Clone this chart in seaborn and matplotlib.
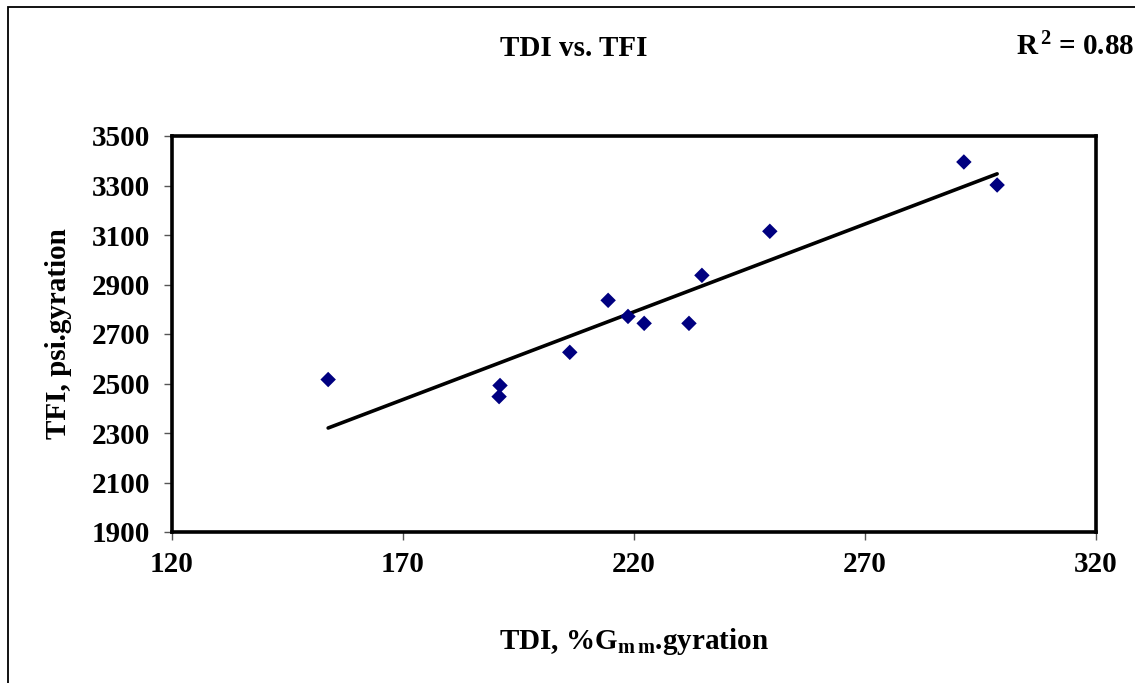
import matplotlib
matplotlib.use("Agg")
import matplotlib.pyplot as plt
import matplotlib.patches as mpatches
import seaborn as sns
import pandas as pd

# TDI and TFI measurements
tdi = [153.8, 191.0, 190.8, 206.1, 214.4, 218.7, 222.2, 231.9, 234.7, 249.4, 291.4, 298.6]
tfi = [2516, 2492, 2447, 2626, 2836, 2771, 2743, 2743, 2937, 3115, 3395, 3302]
x_ticks = [120, 170, 220, 270, 320]
y_ticks = [1900, 2100, 2300, 2500, 2700, 2900, 3100, 3300, 3500]
r_squared = 0.88

df = pd.DataFrame({"TDI": tdi, "TFI": tfi})

sns.set_style("white")
plt.rcParams["font.family"] = ["Liberation Serif", "DejaVu Serif"]
plt.rcParams["font.weight"] = "bold"
plt.rcParams["text.color"] = "black"
plt.rcParams["axes.labelcolor"] = "black"
plt.rcParams["xtick.color"] = "black"
plt.rcParams["ytick.color"] = "black"
plt.rcParams["mathtext.fontset"] = "custom"
plt.rcParams["mathtext.rm"] = "Liberation Serif:bold"
plt.rcParams["mathtext.bf"] = "Liberation Serif:bold"
plt.rcParams["mathtext.it"] = "Liberation Serif:bold"

fig = plt.figure(figsize=(11.35, 6.83), dpi=100)
ax = fig.add_axes([172 / 1135, 1 - 532 / 683, (1096 - 172) / 1135, (532 - 136) / 683])

sns.regplot(
    data=df, x="TDI", y="TFI", ax=ax, ci=None,
    marker="D",
    scatter_kws=dict(color="#000080", s=62, alpha=1, edgecolors="none", zorder=3),
    line_kws=dict(color="black", linewidth=2.6, zorder=2),
)

ax.set_xlim(x_ticks[0], x_ticks[-1])
ax.set_ylim(y_ticks[0], y_ticks[-1])
ax.set_xticks(x_ticks)
ax.set_yticks(y_ticks)
ax.tick_params(axis="both", direction="out", length=6, width=1.0, color="#555555",
               labelcolor="black", labelsize=21, bottom=True, left=True)
ax.tick_params(axis="y", pad=10)
ax.tick_params(axis="x", pad=8)
for lab in ax.get_xticklabels() + ax.get_yticklabels():
    lab.set_fontweight("bold")

for sp in ax.spines.values():
    sp.set_visible(True)
    sp.set_color("black")
    sp.set_linewidth(2.6)

ax.set_xlabel("TDI, %G$_{\\mathbf{m\\,m}}$.gyration", fontsize=21, fontweight="bold",
              labelpad=34, color="black")
ax.set_ylabel("TFI, psi.gyration", fontsize=21, fontweight="bold", labelpad=14, color="black")

fig.text(574 / 1135, 1 - 49 / 683, "TDI vs. TFI", ha="center", va="center",
         fontsize=21, fontweight="bold", color="black")
fig.text(1016 / 1135, 1 - 47 / 683, f"R$^{{\\,2}}$ = {r_squared:.2f}", ha="left", va="center",
         fontsize=21, fontweight="bold", color="black")

# chart border
border = mpatches.Rectangle((8 / 1135, -0.1), 1.2, 1 - 7 / 683 + 0.1,
                            transform=fig.transFigure, fill=False,
                            edgecolor="black", linewidth=1.3, clip_on=False)
fig.patches.append(border)

fig.savefig("out.png", dpi=100, facecolor="white")
